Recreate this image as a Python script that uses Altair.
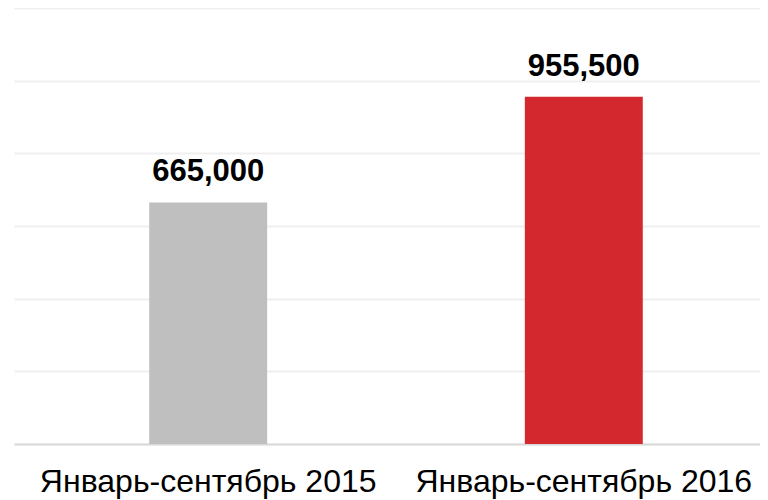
import altair as alt
import pandas as pd

categories = ["Январь-сентябрь 2015", "Январь-сентябрь 2016"]
values = [665000, 955500]
colors = ["#bfbfbf", "#d2282e"]
y_ticks = [0, 200000, 400000, 600000, 800000, 1000000, 1200000]

df = pd.DataFrame({"period": categories, "value": values, "color": colors})

x_enc = alt.X(
    "period:N",
    sort=categories,
    scale=alt.Scale(range=[0, 764], paddingInner=0.686, paddingOuter=0.36),
    axis=alt.Axis(
        title=None, labelAngle=0, labelFontSize=32, labelFont="Liberation Sans",
        labelColor="#000000", labelPadding=22, ticks=False, domain=True,
        domainColor="#d9d9d9", domainWidth=2, labelLimit=0,
    ),
)
y_enc = alt.Y(
    "value:Q",
    scale=alt.Scale(domain=[0, 1200000], nice=False),
    axis=alt.Axis(
        title=None, labels=False, ticks=False, domain=False, grid=True,
        gridColor="#efefef", gridWidth=2, values=y_ticks,
    ),
)

base = alt.Chart(df).encode(x=x_enc, y=y_enc)

bars = base.mark_bar().encode(color=alt.Color("color:N", scale=None))
labels = base.mark_text(
    baseline="bottom", dy=-14, fontSize=31, fontWeight="bold",
    font="Liberation Sans", color="#000000",
).encode(text=alt.Text("value:Q", format=","))

chart = (
    alt.layer(bars, labels)
    .properties(
        width=746, height=436,
        autosize=alt.AutoSizeParams(type="none"),
        padding={"left": 6, "top": 0, "right": 0, "bottom": 56},
        background="white",
    )
    .configure_view(stroke=None)
)

chart.save("out.html", embed_options={"renderer": "svg", "actions": False})
